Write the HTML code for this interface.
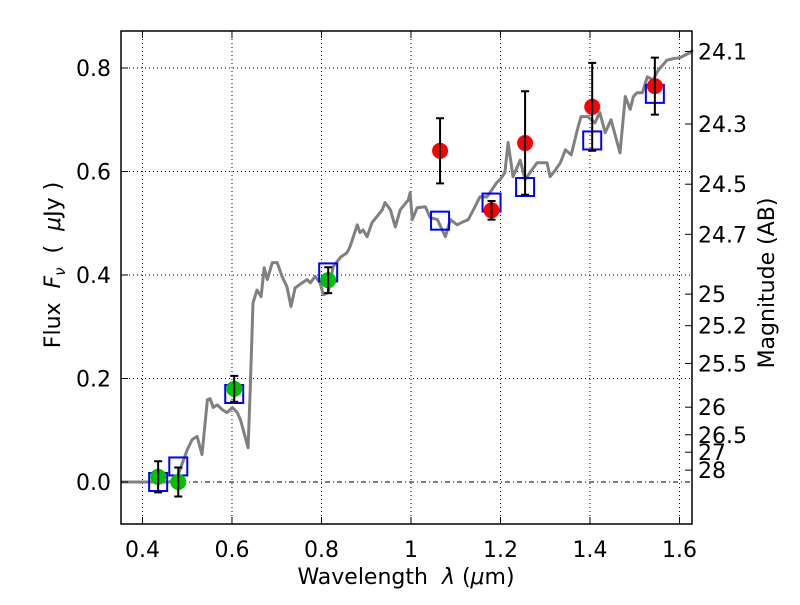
<!DOCTYPE html>
<html><head><meta charset="utf-8"><style>
html,body{margin:0;padding:0;background:#fff;}
svg text{font-family:"DejaVu Sans","Liberation Sans",sans-serif;}
</style></head><body>
<svg id="chart" width="800" height="600" xmlns="http://www.w3.org/2000/svg">
<rect x="0" y="0" width="800" height="600" fill="#fff"/>
<g id="grid"></g>
<g id="spec"></g>
<g id="marks"></g>
<rect x="121" y="31" width="571" height="493" fill="none" stroke="#000" stroke-width="1.5"/>
<g id="axes"></g>
<text x="406" y="584" font-size="22" text-anchor="middle" xml:space="preserve">Wavelength  <tspan font-style="italic">λ</tspan> (<tspan font-style="italic">μ</tspan>m)</text>
<text transform="translate(60,265) rotate(-90)" font-size="22" text-anchor="middle" xml:space="preserve">Flux  <tspan font-style="italic">F</tspan><tspan font-style="italic" font-size="15" dy="5">ν</tspan><tspan dy="-5">  (  </tspan><tspan font-style="italic">μ</tspan>Jy )</text>
<text transform="translate(774,283) rotate(-90)" font-size="22" text-anchor="middle">Magnitude (AB)</text>
</svg>
<script>
const specWave=[0.352,0.46,0.478,0.500,0.511,0.522,0.533,0.545,0.551,0.558,0.567,0.578,0.589,0.601,0.612,0.619,0.625,0.636,0.641,0.647,0.656,0.665,0.672,0.679,0.690,0.701,0.712,0.723,0.732,0.741,0.757,0.768,0.775,0.786,0.797,0.804,0.815,0.826,0.842,0.857,0.864,0.880,0.886,0.893,0.902,0.913,0.924,0.936,0.942,0.954,0.965,0.976,0.994,0.998,1.003,1.014,1.032,1.043,1.059,1.077,1.088,1.103,1.117,1.128,1.143,1.154,1.170,1.192,1.199,1.210,1.217,1.228,1.244,1.255,1.270,1.282,1.304,1.311,1.323,1.334,1.345,1.358,1.372,1.380,1.395,1.411,1.422,1.434,1.447,1.467,1.479,1.490,1.497,1.505,1.517,1.528,1.541,1.552,1.572,1.586,1.601,1.624,1.63];
const specFlux=[0,0,0.01,0.062,0.082,0.088,0.053,0.159,0.161,0.144,0.149,0.140,0.134,0.144,0.134,0.120,0.101,0.066,0.184,0.346,0.371,0.358,0.414,0.391,0.424,0.424,0.397,0.377,0.339,0.375,0.385,0.391,0.385,0.397,0.385,0.362,0.366,0.416,0.434,0.443,0.455,0.497,0.482,0.487,0.474,0.501,0.513,0.526,0.540,0.526,0.493,0.526,0.545,0.559,0.507,0.530,0.532,0.511,0.507,0.474,0.507,0.497,0.503,0.507,0.532,0.551,0.551,0.579,0.584,0.598,0.656,0.590,0.622,0.584,0.603,0.617,0.617,0.590,0.603,0.617,0.642,0.632,0.681,0.706,0.706,0.694,0.714,0.675,0.700,0.636,0.745,0.720,0.745,0.752,0.752,0.783,0.777,0.795,0.815,0.818,0.820,0.830,0.835];
const greenWave=[0.435,0.48,0.605,0.815];
const greenFlux=[0.01,0.0,0.18,0.39];
const greenErr=[0.03,0.028,0.025,0.025];
const redWave=[1.065,1.18,1.255,1.405,1.545];
const redFlux=[0.64,0.525,0.655,0.725,0.765];
const redErr=[0.063,0.018,0.1,0.085,0.055];
const modelWave=[0.435,0.48,0.605,0.815,1.065,1.18,1.255,1.405,1.545];
const modelFlux=[0.0,0.03,0.17,0.405,0.505,0.54,0.57,0.66,0.75];
const xTicks=[0.4,0.6,0.8,1.0,1.2,1.4,1.6];
const xTickLabels=["0.4","0.6","0.8","1","1.2","1.4","1.6"];
const yTicks=[0,0.2,0.4,0.6,0.8];
const yTickLabels=["0.0","0.2","0.4","0.6","0.8"];
const magTicks=[24.1,24.3,24.5,24.7,25,25.2,25.5,26,26.5,27,28];
const magTickLabels=["24.1","24.3","24.5","24.7","25","25.2","25.5","26","26.5","27","28"];

const X0=121,X1=692,Y0=31,Y1=524;
const xmin=0.3520,xmax=1.6280,ymin=-0.0812,ymax=0.8715;
const sx=v=>X0+(v-xmin)/(xmax-xmin)*(X1-X0);
const sy=v=>Y1-(v-ymin)/(ymax-ymin)*(Y1-Y0);
const NS="http://www.w3.org/2000/svg";
function mk(tag,attrs,parent){const e=document.createElementNS(NS,tag);for(const k in attrs)e.setAttribute(k,attrs[k]);parent.appendChild(e);return e;}
const grid=document.getElementById('grid'),axes=document.getElementById('axes'),spec=document.getElementById('spec'),marks=document.getElementById('marks');

xTicks.forEach((t,i)=>{
 const x=sx(t);
 const g=mk('line',{x1:x,x2:x,y1:Y0,y2:Y1,stroke:'#000','stroke-width':1,'stroke-dasharray':'1,3'},grid);
 
 
 const tk=mk('line',{x1:x,x2:x,y1:Y1,y2:Y1-7,stroke:'#000','stroke-width':1},axes);
 
 
 const tk2=mk('line',{x1:x,x2:x,y1:Y0,y2:Y0+7,stroke:'#000','stroke-width':1},axes);
 
 
 const tx=mk('text',{x:x,y:557,'font-size':22,'text-anchor':'middle'},axes);
 tx.textContent=xTickLabels[i];
 
 
});
yTicks.forEach((t,i)=>{
 const y=sy(t);
 const g=mk('line',{x1:X0,x2:X1,y1:y,y2:y,stroke:'#000','stroke-width':1,'stroke-dasharray':t===0?'5,3,1,3':'1,3'},grid);
 
 
 const tk=mk('line',{x1:X0,x2:X0+7,y1:y,y2:y,stroke:'#000','stroke-width':1},axes);
 
 
 const tx=mk('text',{x:111,y:y+8,'font-size':22,'text-anchor':'end'},axes);
 tx.textContent=yTickLabels[i];
 
 
});
magTicks.forEach((m,i)=>{
 const f=Math.pow(10,(23.9-m)/2.5);
 const y=sy(f);
 const tk=mk('line',{x1:X1,x2:X1-7,y1:y,y2:y,stroke:'#000','stroke-width':1},axes);
 
 
 const tx=mk('text',{x:698,y:y+8,'font-size':22,'text-anchor':'start'},axes);
 tx.textContent=magTickLabels[i];
 
 
});

const pts=specWave.map((w,i)=>sx(w).toFixed(1)+','+sy(specFlux[i]).toFixed(1)).join(' ');
const pl=mk('polyline',{points:pts,fill:'none',stroke:'#808080','stroke-width':3,'stroke-linejoin':'round'},spec);



modelWave.forEach((w,i)=>{
 const r=mk('rect',{x:sx(w)-9,y:sy(modelFlux[i])-9,width:18,height:18,fill:'none',stroke:'#0000ff','stroke-width':2},marks);
 
 
});
function pointsWithErr(W,F,E,color,name){
 W.forEach((w,i)=>{
  const x=sx(w);
  const c=mk('circle',{cx:x,cy:sy(F[i]),r:8,fill:color},marks);
  
  
  const yt=sy(F[i]+E[i]),yb=sy(F[i]-E[i]);
  const eb=mk('path',{d:`M${x},${yt}V${yb}M${x-4},${yt}H${x+4}M${x-4},${yb}H${x+4}`,stroke:'#000','stroke-width':2,fill:'none'},marks);
  
  
 });
}
pointsWithErr(greenWave,greenFlux,greenErr,'#00c000','optical-point');
pointsWithErr(redWave,redFlux,redErr,'#ff0000','nir-point');
</script>
</body></html>
